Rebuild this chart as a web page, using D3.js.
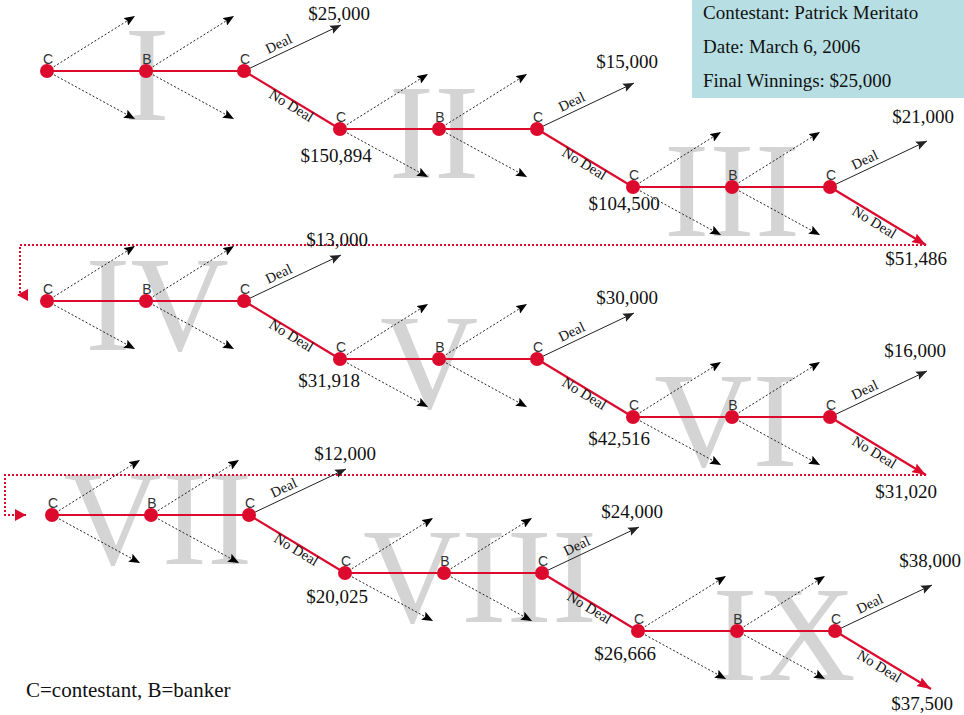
<!DOCTYPE html>
<html><head><meta charset="utf-8">
<script src="https://cdn.jsdelivr.net/npm/d3@7"></script>
<style>body{margin:0;background:#fff}svg{display:block}</style>
</head><body><svg id="c" width="964" height="715"></svg>
<script>
// ---------- data ----------
const stages = ["I","II","III","IV","V","VI","VII","VIII","IX"];
const dealOffers = [25000,15000,21000,13000,30000,16000,12000,24000,38000];
const noDealValues = [150894,104500,51486,31918,42516,31020,20025,26666,37500];
const nodeRoles = ["C","B","C"];
const infoLines = ["Contestant: Patrick Meritato","Date: March 6, 2006","Final Winnings: $25,000"];
const legendText = "C=contestant, B=banker";

// ---------- layout ----------
const W = 964, H = 715;
const rowX0 = [47,47,52], rowY0 = [71,301,515];
const stageW = 293, stageH = 58;
const nodeFrac = [0, 99/293, 197/293];
const numeralDx = [1,-5,0,11,-10,-6,7,36,47];
const dealNudge = [[-2,-5],[-7,-15],[-4,-18],[-4,-9],[-7,-9],[-12,-14],[-1,-9],[-7,-9],[-2,-18]];
const valueNudge = [[-4,33],[-9,23],[-10,20],[-11,28],[-14,28],[-20,23],[-8,30],[-13,29],[-9,21]];
const RED = "#dc0a2d";
const SERIF = "'Liberation Serif','Times New Roman',Times,serif";
const SANS = "'Liberation Sans',Arial,Helvetica,sans-serif";

const svg = d3.select("#c");
const fmt = d3.format("$,");

const xs = rowX0.map(x0 => d3.scaleLinear().domain([0,3]).range([x0, x0 + 3*stageW]));
const ys = rowY0.map(y0 => d3.scaleLinear().domain([0,3]).range([y0, y0 + 3*stageH]));

// markers
const defs = svg.append("defs");
function marker(id, len, wid, color, notch) {
  defs.append("marker").attr("id", id)
    .attr("viewBox", `0 0 ${len} ${wid}`).attr("refX", len).attr("refY", wid/2)
    .attr("markerWidth", len).attr("markerHeight", wid)
    .attr("markerUnits", "userSpaceOnUse").attr("orient", "auto")
    .append("path")
    .attr("d", `M0,0 L${len},${wid/2} L0,${wid} L${notch},${wid/2} Z`)
    .attr("fill", color);
}
marker("blk", 11, 9, "#000", 2);
marker("dk", 11, 9, "#222", 2);
marker("red", 14, 10, RED, 2);
marker("redw", 11, 12, RED, 0);

// info box
svg.append("rect").attr("x", 692).attr("y", 0).attr("width", W - 692).attr("height", 98)
  .attr("fill", "#b7dfe3");
svg.selectAll("text.info").data(infoLines).join("text").attr("class","info")
  .attr("x", 703).attr("y", (d,i) => 19 + i*34)
  .attr("font-family", SERIF).attr("font-size", 19).attr("fill", "#111").text(d => d);

// stage geometry
const stageData = stages.map((name, s) => {
  const r = Math.floor(s/3), c = s % 3, X = xs[r], Y = ys[r];
  const nodes = nodeFrac.map((f, j) => ({role: nodeRoles[j], x: X(c + f), y: Y(c)}));
  const last = nodes[2];
  const dealEnd = {x: X(c + nodeFrac[2] + 97/stageW), y: Y(c - 46/stageH)};
  const ndEnd = {x: X(c + 1), y: Y(c + 1)};
  return {name, s, r, c, nodes, last, dealEnd, ndEnd, final: c === 2};
});

// numerals (background)
svg.selectAll("text.num").data(stageData).join("text").attr("class","num")
  .attr("x", d => d.nodes[1].x + numeralDx[d.s]).attr("y", d => d.nodes[0].y + 49)
  .attr("text-anchor", "middle").attr("font-family", SERIF).attr("font-size", 136)
  .attr("fill", "#d4d4d4").text(d => d.name);

// wrap dotted lines
const wraps = [
  {from: stageData[2].ndEnd, xv: 20, yEnd: 295, xEnd: 17},
  {from: stageData[5].ndEnd, xv: 5, yEnd: ys[2](0), xEnd: 26}
];
svg.selectAll("path.wrap").data(wraps).join("path").attr("class","wrap")
  .attr("d", d => d3.line()([[d.from.x, d.from.y],[d.xv, d.from.y],[d.xv, d.yEnd],[d.xEnd, d.yEnd]]))
  .attr("fill", "none").attr("stroke", RED).attr("stroke-width", 2)
  .attr("stroke-dasharray", "2,2").attr("marker-end", "url(#redw)");

const g = svg.append("g");
stageData.forEach(d => {
  d.nodes.slice(0,2).forEach(n => {
    [[88,-55],[88,48]].forEach(([dx,dy]) => {
      g.append("line").attr("x1", n.x).attr("y1", n.y).attr("x2", n.x + dx).attr("y2", n.y + dy)
        .attr("stroke", "#222").attr("stroke-width", 1).attr("stroke-dasharray", "2,2")
        .attr("marker-end", "url(#blk)");
    });
  });
  g.append("line").attr("x1", d.nodes[0].x).attr("y1", d.nodes[0].y).attr("x2", d.last.x).attr("y2", d.last.y)
    .attr("stroke", RED).attr("stroke-width", 2.2);
  g.append("line").attr("x1", d.last.x).attr("y1", d.last.y).attr("x2", d.dealEnd.x).attr("y2", d.dealEnd.y)
    .attr("stroke", "#222").attr("stroke-width", 1).attr("marker-end", "url(#dk)");
  g.append("line").attr("x1", d.last.x).attr("y1", d.last.y).attr("x2", d.ndEnd.x).attr("y2", d.ndEnd.y)
    .attr("stroke", RED).attr("stroke-width", 2.2)
    .attr("marker-end", d.final ? "url(#red)" : null);
  const aD = Math.atan2(d.dealEnd.y - d.last.y, d.dealEnd.x - d.last.x) * 180 / Math.PI;
  const pD = [d.last.x + 0.4*(d.dealEnd.x - d.last.x), d.last.y + 0.4*(d.dealEnd.y - d.last.y)];
  g.append("text").attr("transform", `translate(${pD}) rotate(${aD})`).attr("dy", -5)
    .attr("text-anchor", "middle").attr("font-family", SERIF).attr("font-size", 14.5).attr("fill", "#111")
    .text("Deal");
  const aN = Math.atan2(d.ndEnd.y - d.last.y, d.ndEnd.x - d.last.x) * 180 / Math.PI;
  const tN = d.final ? 0.5 : 0.52;
  const pN = [d.last.x + tN*(d.ndEnd.x - d.last.x), d.last.y + tN*(d.ndEnd.y - d.last.y)];
  g.append("text").attr("transform", `translate(${pN}) rotate(${aN})`).attr("dy", d.final ? 12 : 10)
    .attr("text-anchor", "middle").attr("font-family", SERIF).attr("font-size", 14.5).attr("fill", "#111")
    .text("No Deal");
  g.append("text").attr("x", d.dealEnd.x + dealNudge[d.s][0]).attr("y", d.dealEnd.y + dealNudge[d.s][1])
    .attr("text-anchor", "middle").attr("font-family", SERIF).attr("font-size", 19).attr("fill", "#111")
    .text(fmt(dealOffers[d.s]));
  g.append("text").attr("x", d.ndEnd.x + valueNudge[d.s][0]).attr("y", d.ndEnd.y + valueNudge[d.s][1])
    .attr("text-anchor", "middle").attr("font-family", SERIF).attr("font-size", 19).attr("fill", "#111")
    .text(fmt(noDealValues[d.s]));
});

stageData.forEach(d => {
  d.nodes.forEach(n => {
    g.append("circle").attr("cx", n.x).attr("cy", n.y).attr("r", 7).attr("fill", RED);
    g.append("text").attr("x", n.x + 1).attr("y", n.y - 7).attr("text-anchor", "middle")
      .attr("font-family", SANS).attr("font-size", 14).attr("fill", "#333").text(n.role);
  });
});

svg.append("text").attr("x", 26).attr("y", 697).attr("font-family", SERIF).attr("font-size", 21)
  .attr("fill", "#111").text(legendText);
</script></body></html>
